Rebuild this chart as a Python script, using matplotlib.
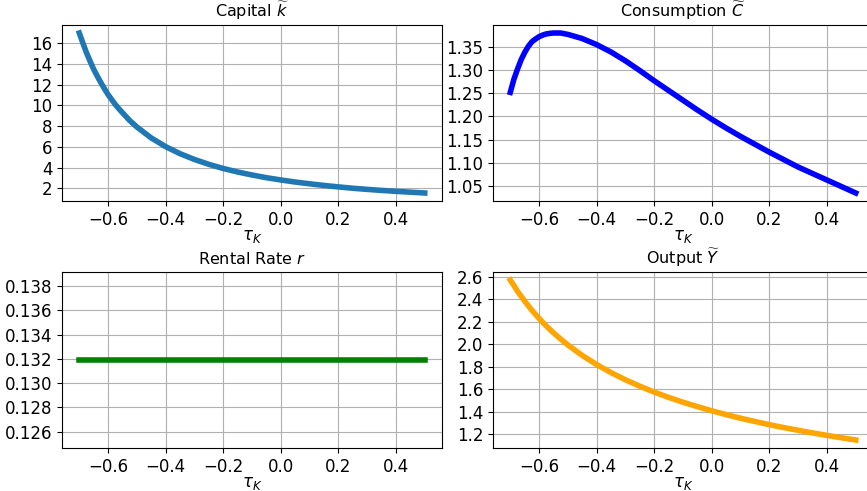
import matplotlib
matplotlib.use("Agg")
import matplotlib.pyplot as plt
from matplotlib.ticker import MultipleLocator

# tax rate on capital and the steady-state values
tau_k = [-0.7, -0.6875, -0.675, -0.6625, -0.65, -0.6375, -0.625, -0.6125, -0.6,
         -0.5875, -0.575, -0.5625, -0.55, -0.525, -0.5, -0.45,
         -0.4, -0.35, -0.3, -0.25, -0.2, -0.15, -0.1, -0.05, 0.0, 0.05,
         0.1, 0.15, 0.2, 0.25, 0.3, 0.35, 0.4, 0.45, 0.5]

capital = [17.0, 16.03, 15.1, 14.28, 13.5, 12.83, 12.2, 11.61, 11.05,
           10.57, 10.1, 9.68, 9.3, 8.55, 7.92, 6.86,
           6.02, 5.34, 4.78, 4.31, 3.91, 3.57, 3.28, 3.02, 2.8, 2.6,
           2.43, 2.27, 2.13, 2.0, 1.89, 1.79, 1.7, 1.62, 1.54]

consumption = [1.252, 1.280, 1.302, 1.322, 1.338, 1.351, 1.361, 1.367, 1.372,
               1.3755, 1.378, 1.3792, 1.380, 1.380, 1.377, 1.368,
               1.355, 1.339, 1.320, 1.299, 1.277, 1.256, 1.235, 1.214, 1.194, 1.175,
               1.157, 1.140, 1.123, 1.107, 1.091, 1.077, 1.063, 1.049, 1.035]

rental_rate = [0.1319] * len(tau_k)

output = [2.57, 2.522, 2.47, 2.427, 2.383, 2.342, 2.302, 2.265, 2.23,
          2.195, 2.163, 2.132, 2.102, 2.046, 1.994, 1.901,
          1.82, 1.749, 1.685, 1.628, 1.576, 1.529, 1.486, 1.447, 1.41, 1.376,
          1.344, 1.315, 1.287, 1.261, 1.237, 1.214, 1.192, 1.171, 1.151]

panels = [
    ("Capital $\\widetilde{k}$", capital, "#1f77b4", 2),
    ("Consumption $\\widetilde{C}$", consumption, "blue", 0.05),
    ("Rental Rate $r$", rental_rate, "green", 0.002),
    ("Output $\\widetilde{Y}$", output, "orange", 0.2),
]


def main():
    fig = plt.figure(figsize=(8.67, 4.91), dpi=100)

    W, H = 867.0, 491.0
    lefts = [62, 493, 62, 493]
    tops = [25, 25, 272, 272]
    aw, ah = 380, 176

    for (title, vals, color, ystep), l, t in zip(panels, lefts, tops):
        ax = fig.add_axes([l / W, 1 - (t + ah) / H, aw / W, ah / H])
        ax.plot(tau_k, vals, color=color, lw=4)
        ax.set_title(title, fontsize=11.5)
        ax.set_xlabel("$\\tau_K$", fontsize=12, labelpad=-1.5)
        ax.yaxis.set_major_locator(MultipleLocator(ystep))
        ax.xaxis.set_major_locator(MultipleLocator(0.2))
        ax.tick_params(labelsize=12)
        ax.grid(True)

    fig.savefig("out.png", dpi=100)
    plt.close(fig)


if __name__ == "__main__":
    main()
